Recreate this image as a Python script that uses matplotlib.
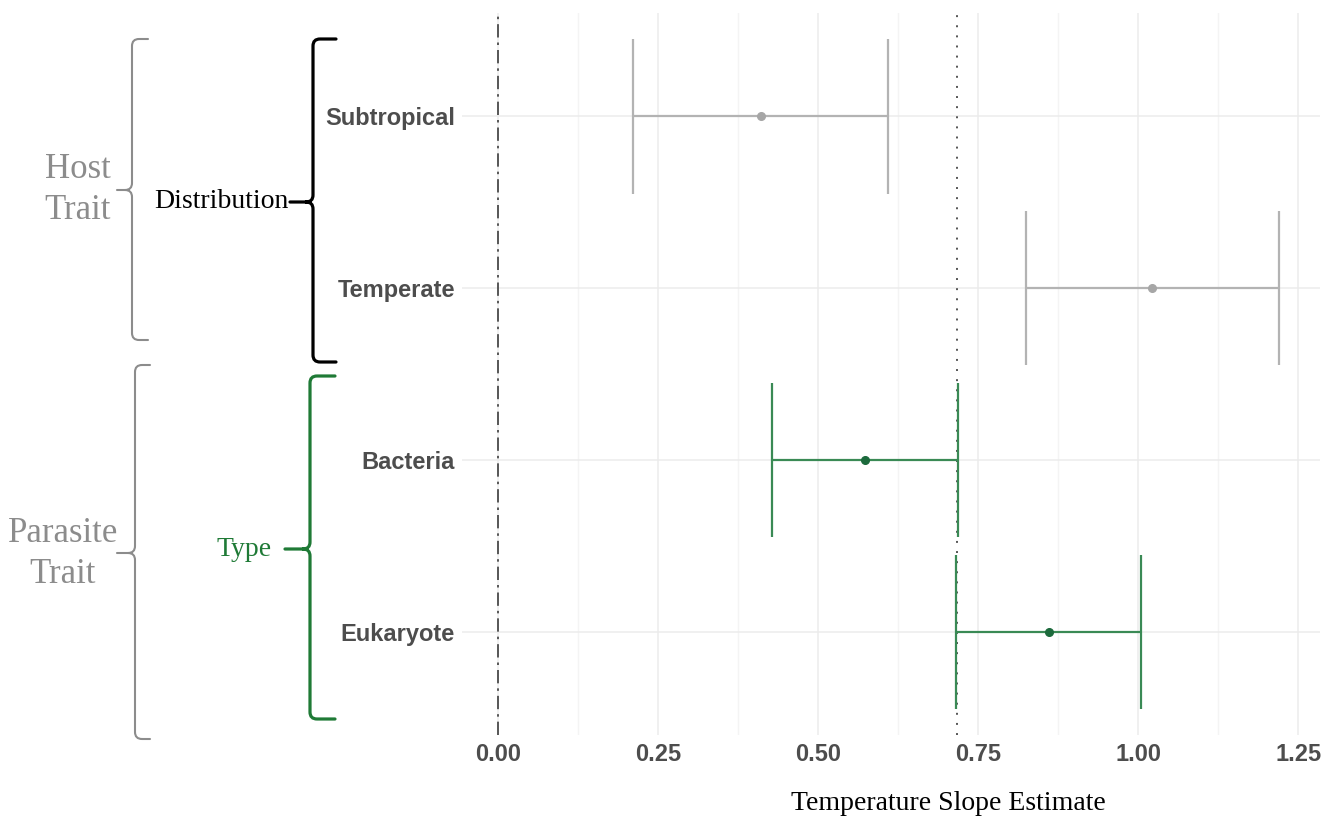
import numpy as np
import matplotlib
matplotlib.use("Agg")
import matplotlib.pyplot as plt
from matplotlib.path import Path
from matplotlib.patches import PathPatch

# ---- data ----
categories = ["Subtropical", "Temperate", "Bacteria", "Eukaryote"]
estimate = [0.410, 1.022, 0.573, 0.860]
lower = [0.211, 0.824, 0.428, 0.715]
upper = [0.609, 1.220, 0.718, 1.004]
trait_group = ["host", "host", "parasite", "parasite"]
mean_slope = 0.717
xticks = [0.00, 0.25, 0.50, 0.75, 1.00, 1.25]

line_col = {"host": "#b3b3b3", "parasite": "#3a8a55"}
point_col = {"host": "#a6a6a6", "parasite": "#1c6a3c"}
green = "#1f7a36"
grey_txt = "#8c8c8c"

W, H = 1338, 824
fig = plt.figure(figsize=(W / 100, H / 100), dpi=100)


def fx(x):
    return x / W


def fy(y):
    return 1 - y / H


ax = fig.add_axes([fx(462), fy(735), fx(1320) - fx(462), fy(13) - fy(735)])

ypos = np.arange(len(categories))[::-1] + 1
ax.set_xlim(-0.057, 1.284)
ax.set_ylim(0.4, len(categories) + 0.6)

# grid, ggplot minimal style
ax.set_xticks(xticks)
ax.set_xticks(np.array(xticks[:-1]) + 0.125, minor=True)
ax.set_yticks(ypos)
ax.grid(True, which="major", color="#ececec", lw=1.1)
ax.grid(True, which="minor", axis="x", color="#f4f4f4", lw=1.0)
ax.set_axisbelow(True)
for s in ax.spines.values():
    s.set_visible(False)
ax.tick_params(length=0, which="both")
ax.tick_params(axis="y", pad=5)
ax.tick_params(axis="x", pad=6)
ax.set_yticklabels(categories, fontfamily="Liberation Sans", fontweight="bold",
                   fontsize=17, color="#4d4d4d")
ax.set_xticklabels([f"{t:.2f}" for t in xticks], fontfamily="Liberation Sans",
                   fontweight="bold", fontsize=17, color="#4d4d4d")

# reference lines
ax.axvline(0, color="#3c3c3c", lw=1.2, ls=(0, (8, 3, 1.5, 3)))
ax.axvline(mean_slope, color="#555555", lw=1.4, ls=(0, (1, 4.2)))

# confidence intervals + estimates
for y, est, lo, hi, g in zip(ypos, estimate, lower, upper, trait_group):
    ax.hlines(y, lo, hi, color=line_col[g], lw=1.6, zorder=3)
    ax.vlines([lo, hi], y - 0.45, y + 0.45, color=line_col[g], lw=1.6, zorder=3)
    ax.plot(est, y, "o", color=point_col[g], ms=5.5, zorder=4)

fig.text(fx(948), fy(803), "Temperature Slope Estimate", fontfamily="Liberation Serif",
         fontsize=20, color="black", ha="center", va="center")


# curly braces drawn in pixel positions on the figure
def brace(xv, ytop, ybot, ymid, xend, xtip, color, lw, r=7):
    pts = [
        (xend, ytop), (xv + r, ytop), (xv, ytop), (xv, ytop + r),
        (xv, ymid - r), (xv, ymid), (xv - r, ymid), (xtip, ymid),
        (xv - r, ymid), (xv, ymid), (xv, ymid + r),
        (xv, ybot - r), (xv, ybot), (xv + r, ybot), (xend, ybot),
    ]
    codes = [
        Path.MOVETO, Path.LINETO, Path.CURVE3, Path.CURVE3,
        Path.LINETO, Path.CURVE3, Path.CURVE3, Path.LINETO,
        Path.MOVETO, Path.CURVE3, Path.CURVE3,
        Path.LINETO, Path.CURVE3, Path.CURVE3, Path.LINETO,
    ]
    verts = [(fx(a), fy(b)) for a, b in pts]
    fig.add_artist(PathPatch(Path(verts, codes), fill=False, edgecolor=color,
                             lw=lw, transform=fig.transFigure, capstyle="round"))


brace(132, 39, 340, 190, 148, 117, "#8c8c8c", 1.5)
brace(313, 39, 362, 202, 336, 290, "black", 2.3)
brace(135, 365, 739, 553, 150, 117, "#8c8c8c", 1.5)
brace(310, 376, 719, 549, 335, 285, green, 2.3)

serif = "Liberation Serif"
fig.text(fx(78), fy(190), "Host\nTrait", fontfamily=serif, fontsize=25,
         color=grey_txt, ha="center", va="center", linespacing=1.3)
fig.text(fx(63), fy(554), "Parasite\nTrait", fontfamily=serif, fontsize=25,
         color=grey_txt, ha="center", va="center", linespacing=1.3)
fig.text(fx(221), fy(201), "Distribution", fontfamily=serif, fontsize=20,
         color="black", ha="center", va="center")
fig.text(fx(244), fy(549), "Type", fontfamily=serif, fontsize=20,
         color=green, ha="center", va="center")

fig.savefig("out.png", dpi=100, facecolor="white")
